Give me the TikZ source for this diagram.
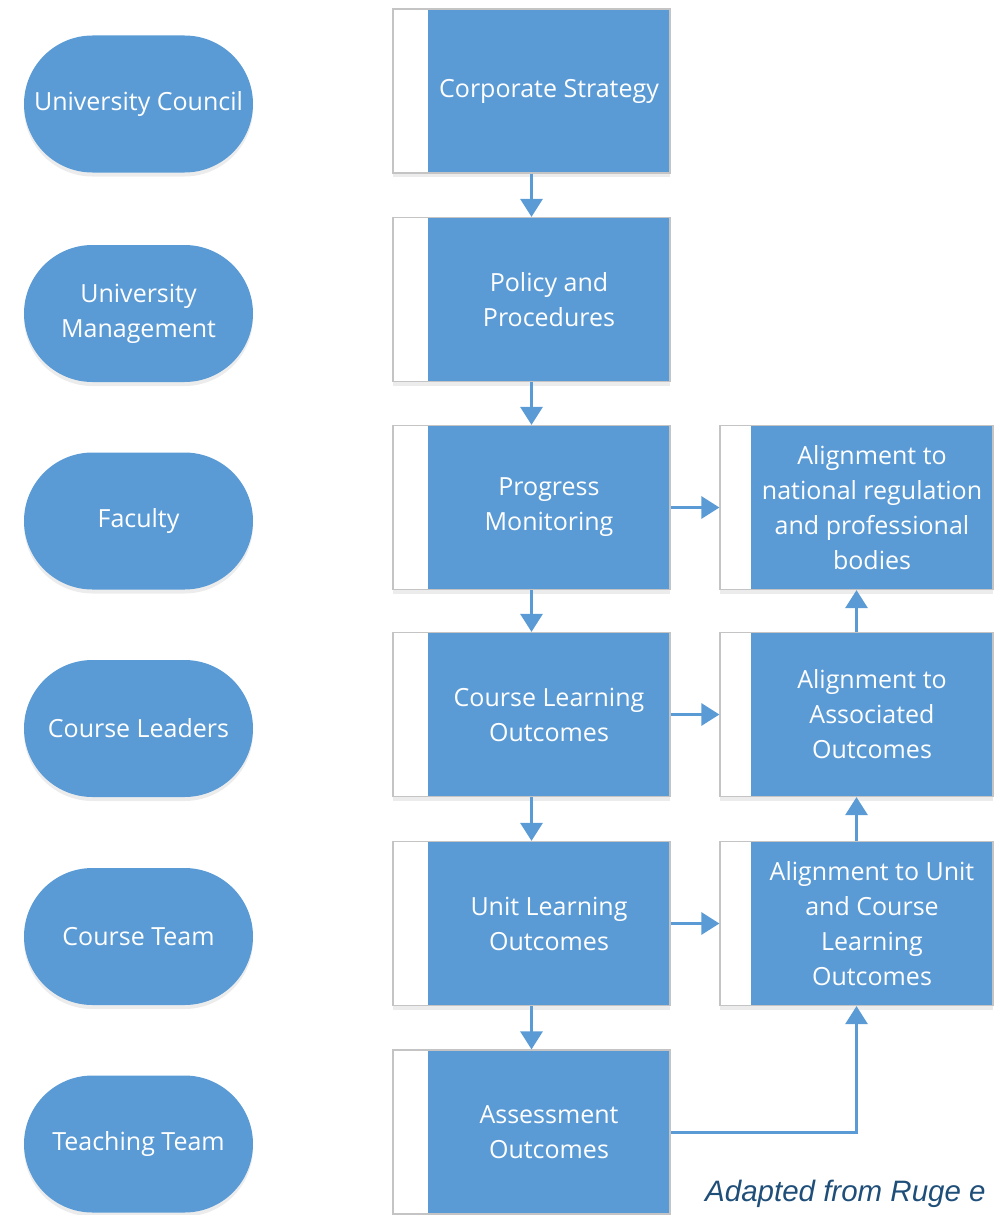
\documentclass[tikz,border=0pt]{standalone}
\usepackage{fontspec}
\setmainfont{Open Sans}
\newfontfamily\captionfont{Liberation Sans}
\usetikzlibrary{arrows.meta,shadows,shapes.misc}

\definecolor{blueF}{HTML}{5B9BD5}
\definecolor{boxedge}{HTML}{C4C4C4}
\definecolor{captionblue}{HTML}{1F4E79}

\tikzset{
  softshadow/.style={drop shadow={shadow xshift=0pt, shadow yshift=-4pt, opacity=0.12, fill=black!60}},
  procbox/.style={draw=boxedge, line width=1.2pt, fill=white, softshadow,
    minimum width=277pt, minimum height=164pt, inner sep=0pt,
    path picture={\fill[blueF] ([xshift=35pt]path picture bounding box.north west)
                    rectangle (path picture bounding box.south east);}},
  alignbox/.style={procbox, minimum width=273pt, path picture={\fill[blueF]
                    ([xshift=31pt]path picture bounding box.north west)
                    rectangle (path picture bounding box.south east);}},
  boxtext/.style={text=white, align=center, font=\fontsize{25}{35}\selectfont},
  role/.style={rounded rectangle, fill=blueF, softshadow, minimum width=229pt,
    minimum height=137pt, inner sep=0pt, text=white, align=center,
    font=\fontsize{25}{35}\selectfont},
  flow/.style={draw=blueF, line width=3pt, -{Triangle[width=22pt,length=18pt]}},
}

\begin{document}
\begin{tikzpicture}[x=1pt,y=-1pt]
\useasboundingbox (0,0) rectangle (995,1215);
\clip (0,0) rectangle (995,1215);

% roles on the left
\node[role] (council)    at (138.5,104)  {University Council};
\node[role] (management) at (138.5,313.5){University\\Management};
\node[role] (faculty)    at (138.5,521)  {Faculty};
\node[role] (leaders)    at (138.5,728.5){Course Leaders};
\node[role] (courseteam) at (138.5,936.5){Course Team};
\node[role] (teaching)   at (138.5,1144) {Teaching Team};

% main process column
\node[procbox, label={[boxtext,xshift=17.5pt]center:Corporate Strategy}] (strategy) at (531.5,91) {};
\node[procbox, label={[boxtext,xshift=17.5pt]center:{Policy and\\Procedures}}] (policy) at (531.5,299.5) {};
\node[procbox, label={[boxtext,xshift=17.5pt]center:{Progress\\Monitoring}}] (progress) at (531.5,507.5) {};
\node[procbox, label={[boxtext,xshift=17.5pt]center:{Course Learning\\Outcomes}}] (clo) at (531.5,714.5) {};
\node[procbox, label={[boxtext,xshift=17.5pt]center:{Unit Learning\\Outcomes}}] (ulo) at (531.5,923.5) {};
\node[procbox, label={[boxtext,xshift=17.5pt]center:{Assessment\\Outcomes}}] (assess) at (531.5,1132) {};

% alignment column
\node[alignbox, label={[boxtext,xshift=15.5pt]center:{Alignment to\\national regulation\\and professional\\bodies}}] (national) at (856.5,507.5) {};
\node[alignbox, label={[boxtext,xshift=15.5pt]center:{Alignment to\\Associated\\Outcomes}}] (associated) at (856.5,714.5) {};
\node[alignbox, label={[boxtext,xshift=15.5pt]center:{Alignment to Unit\\and Course\\Learning\\Outcomes}}] (unitcourse) at (856.5,923.5) {};

% connectors
\draw[flow] (strategy) -- (policy);
\draw[flow] (policy) -- (progress);
\draw[flow] (progress) -- (clo);
\draw[flow] (clo) -- (ulo);
\draw[flow] (ulo) -- (assess);
\draw[flow] (progress) -- (national);
\draw[flow] (clo) -- (associated);
\draw[flow] (ulo) -- (unitcourse);
\draw[flow] (associated) -- (national);
\draw[flow] (unitcourse) -- (associated);
\draw[flow] (assess.east) -| (unitcourse.south);

% source note
\node[anchor=base west, inner sep=0pt, text=captionblue,
      font=\captionfont\itshape\fontsize{29.5}{36}\selectfont] (source) at (705,1201) {Adapted from Ruge e};
\end{tikzpicture}
\end{document}
